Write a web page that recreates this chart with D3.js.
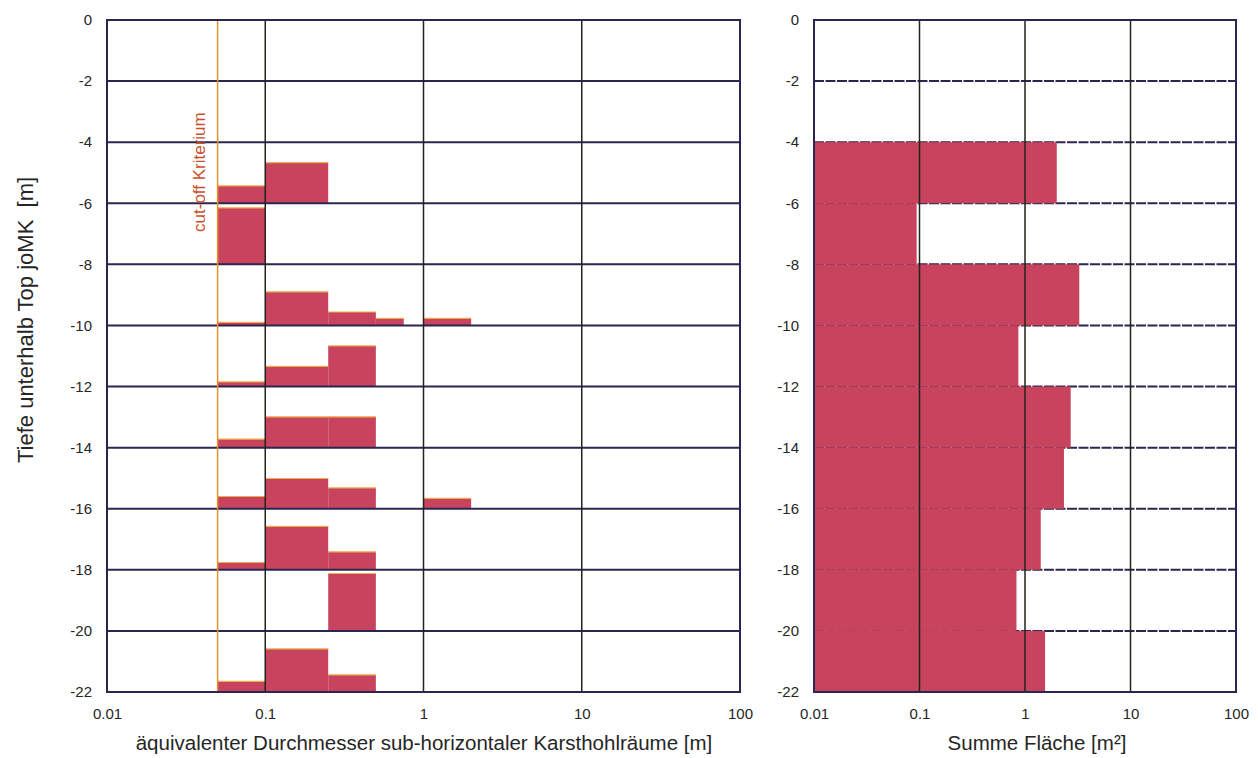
<!DOCTYPE html>
<html>
<head>
<meta charset="utf-8">
<script src="https://cdn.jsdelivr.net/npm/d3@7"></script>
<style>
  html, body { margin: 0; padding: 0; background: #ffffff; }
  svg { display: block; font-family: "Liberation Sans", Arial, sans-serif; }
</style>
</head>
<body>
<svg id="chart" width="1258" height="758"></svg>
<script>
// ---------------- DATA ----------------
// depth intervals (top, bottom) in m below Top joMK
const intervalTops    = [-4, -6, -8, -10, -12, -14, -16, -18, -20];
const intervalBottoms = [-6, -8, -10, -12, -14, -16, -18, -20, -22];

// diameter classes [m] (left panel)
const classLow  = [0.05, 0.1, 0.25, 0.5, 1];
const classHigh = [0.1, 0.25, 0.5, 0.75, 2];

// bar heights per interval (rows) and class (columns), in depth-axis units
const classHeights = [
  [0.57, 1.33, 0,    0,    0   ],
  [1.85, 0,    0,    0,    0   ],
  [0.10, 1.10, 0.44, 0.23, 0.23],
  [0.15, 0.66, 1.33, 0,    0   ],
  [0.28, 1.01, 1.01, 0,    0   ],
  [0.40, 0.99, 0.68, 0,    0.34],
  [0.24, 1.42, 0.59, 0,    0   ],
  [0,    0,    1.88, 0,    0   ],
  [0.35, 1.41, 0.56, 0,    0   ]
];

// summed area per interval [m²] (right panel)
const areaSums = [2.0, 0.094, 3.27, 0.865, 2.71, 2.34, 1.41, 0.83, 1.55];

const cutoff = 0.05;
const xTicks = [0.01, 0.1, 1, 10, 100];
const xTickLabels = ["0.01", "0.1", "1", "10", "100"];
const yTicks = [0, -2, -4, -6, -8, -10, -12, -14, -16, -18, -20, -22];

const leftTitle  = "äquivalenter Durchmesser sub-horizontaler Karsthohlräume [m]";
const rightTitle = "Summe Fläche [m²]";
const yTitle     = "Tiefe unterhalb Top joMK  [m]";
const cutoffLabel = "cut-off Kriterium";

// ---------------- STYLE ----------------
const barFill = "#c8435d";
const barEdge = "#efae4a";
const hGridColor = "#2c2550";
const vGridColor = "#23231c";
const textColor = "#262626";
const FONT = "Liberation Sans, Arial, sans-serif";

const svg = d3.select("#chart");

const yScale = d3.scaleLinear().domain([0, -22]).range([20, 692]);

function panel(x0, x1) {
  return d3.scaleLog().domain([0.01, 100]).range([x0, x1]);
}

const xL = panel(107, 740);
const xR = panel(814, 1236);

function styleTicks(g) {
  g.select(".domain").remove();
  g.attr("font-size", null).attr("font-family", null);
  g.selectAll("text")
    .style("font-size", "15px")
    .style("font-family", FONT)
    .attr("fill", textColor);
}

function yAxis(labelX) {
  const g = svg.append("g").attr("transform", `translate(${labelX},0)`);
  g.call(d3.axisLeft(yScale).tickValues(yTicks).tickSize(0).tickPadding(0)
    .tickFormat(d => String(d)));
  styleTicks(g);
}

function xAxis(xScale) {
  const g = svg.append("g").attr("transform", `translate(0,708)`);
  g.call(d3.axisBottom(xScale).tickValues(xTicks).tickSize(0).tickPadding(0)
    .tickFormat((d, i) => xTickLabels[i]));
  styleTicks(g);
}

// ---------- LEFT PANEL ----------
const leftBars = [];
intervalBottoms.forEach((b, i) => {
  classHeights[i].forEach((h, j) => {
    if (h > 0) leftBars.push({ bottom: b, top: b + h, lo: classLow[j], hi: classHigh[j] });
  });
});

const gL = svg.append("g");
gL.selectAll("rect.bar").data(leftBars).join("rect")
  .attr("class", "bar")
  .attr("x", d => xL(d.lo))
  .attr("width", d => xL(d.hi) - xL(d.lo))
  .attr("y", d => yScale(d.top))
  .attr("height", d => yScale(d.bottom) - yScale(d.top))
  .attr("fill", barFill);

gL.selectAll("line.edge").data(leftBars).join("line")
  .attr("class", "edge")
  .attr("x1", d => xL(d.lo)).attr("x2", d => xL(d.hi))
  .attr("y1", d => yScale(d.top)).attr("y2", d => yScale(d.top))
  .attr("stroke", barEdge).attr("stroke-width", 1.2);

// horizontal grid (solid)
gL.selectAll("line.hg").data(yTicks.slice(1, -1)).join("line")
  .attr("x1", xL(0.01)).attr("x2", xL(100))
  .attr("y1", d => yScale(d)).attr("y2", d => yScale(d))
  .attr("stroke", hGridColor).attr("stroke-width", 2);

// vertical grid
gL.selectAll("line.vg").data(xTicks.slice(1, -1)).join("line")
  .attr("x1", d => xL(d)).attr("x2", d => xL(d))
  .attr("y1", yScale(0)).attr("y2", yScale(-22))
  .attr("stroke", vGridColor).attr("stroke-width", 1.5);

// cut-off line
gL.append("line")
  .attr("x1", xL(cutoff)).attr("x2", xL(cutoff))
  .attr("y1", yScale(0)).attr("y2", yScale(-22))
  .attr("stroke", "#e39228").attr("stroke-width", 1.5);

gL.append("text")
  .attr("transform", `translate(${xL(cutoff) - 13},${yScale(-4.98)}) rotate(-90)`)
  .attr("text-anchor", "middle")
  .attr("fill", "#c9502e")
  .style("font-size", "17px")
  .text(cutoffLabel);

// border
gL.append("rect")
  .attr("x", xL(0.01)).attr("y", yScale(0))
  .attr("width", xL(100) - xL(0.01)).attr("height", yScale(-22) - yScale(0))
  .attr("fill", "none").attr("stroke", hGridColor).attr("stroke-width", 2);

yAxis(92);
xAxis(xL);

svg.append("text")
  .attr("x", 424).attr("y", 750)
  .attr("text-anchor", "middle").attr("fill", textColor).style("font-size", "20.5px")
  .text(leftTitle);

svg.append("text")
  .attr("transform", `translate(33,320) rotate(-90)`)
  .attr("text-anchor", "middle").attr("fill", textColor).style("font-size", "22px")
  .style("white-space", "pre")
  .attr("xml:space", "preserve")
  .text(yTitle);

// ---------- RIGHT PANEL ----------
const gR = svg.append("g");

// horizontal grid (dashed) under bars
gR.selectAll("line.hg").data(yTicks.slice(1, -1)).join("line")
  .attr("x1", xR(0.01)).attr("x2", xR(100))
  .attr("y1", d => yScale(d)).attr("y2", d => yScale(d))
  .attr("stroke", hGridColor).attr("stroke-width", 2)
  .attr("stroke-dasharray", "10,1.5");

const rightBars = areaSums.map((v, i) => ({ top: intervalTops[i], bottom: intervalBottoms[i], v }));
gR.selectAll("rect.bar").data(rightBars).join("rect")
  .attr("class", "bar")
  .attr("x", xR(0.01))
  .attr("width", d => xR(d.v) - xR(0.01))
  .attr("y", d => yScale(d.top))
  .attr("height", d => yScale(d.bottom) - yScale(d.top))
  .attr("fill", barFill);

gR.selectAll("line.vg").data(xTicks.slice(1, -1)).join("line")
  .attr("x1", d => xR(d)).attr("x2", d => xR(d))
  .attr("y1", yScale(0)).attr("y2", yScale(-22))
  .attr("stroke", vGridColor).attr("stroke-width", 1.5);

gR.append("rect")
  .attr("x", xR(0.01)).attr("y", yScale(0))
  .attr("width", xR(100) - xR(0.01)).attr("height", yScale(-22) - yScale(0))
  .attr("fill", "none").attr("stroke", hGridColor).attr("stroke-width", 2);

yAxis(799);
xAxis(xR);

svg.append("text")
  .attr("x", 1037).attr("y", 750)
  .attr("text-anchor", "middle").attr("fill", textColor).style("font-size", "20.5px")
  .text(rightTitle);
</script>
</body>
</html>
